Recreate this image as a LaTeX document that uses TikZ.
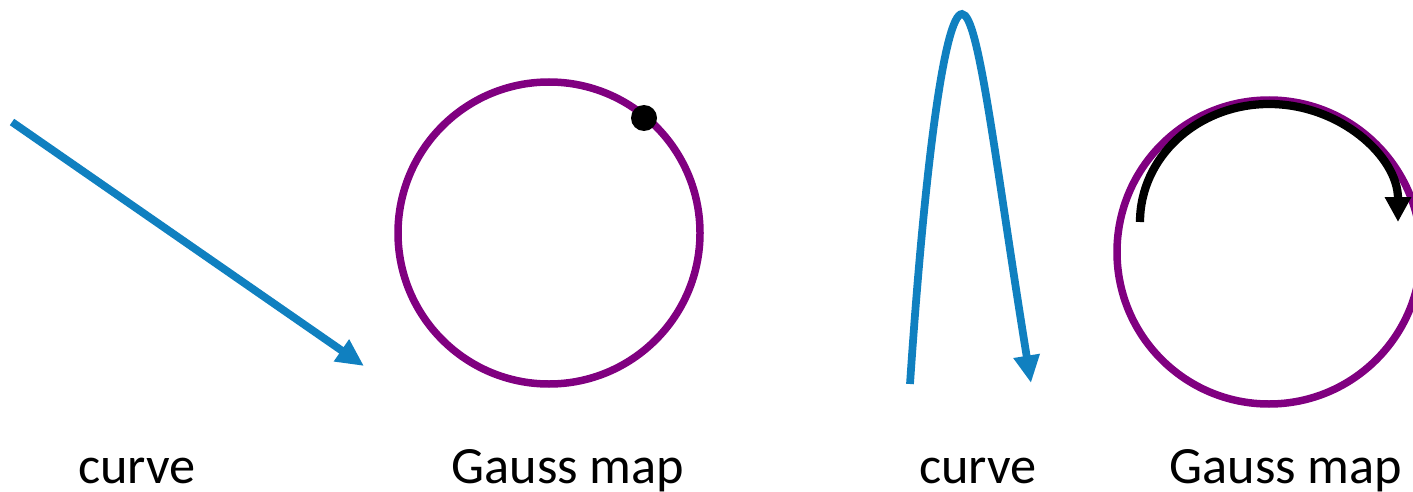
\documentclass[tikz,border=0pt]{standalone}
\usepackage{fontspec}
\setsansfont{Carlito}
\usetikzlibrary{arrows.meta}
\definecolor{curveblue}{RGB}{16, 128, 192}
\definecolor{gausspurple}{RGB}{128, 0, 128}

\begin{document}
\begin{tikzpicture}[
	x=0.02cm, y=0.02cm,
	font=\sffamily\fontsize{29.8}{36}\selectfont,
	% Styles for the curves and the circles
	curveline/.style={draw=curveblue, line width=0.155cm, -{Triangle[length=0.55cm, width=0.5cm]}},
	gausscircle/.style={draw=gausspurple, line width=0.15cm},
	gaussarrow/.style={draw=black, line width=0.165cm, -{Triangle[length=0.5cm, width=0.5cm]}},
	% Style for the captions
	caption/.style={anchor=base, inner sep=0pt}
	]
	
	\useasboundingbox (0, 0) rectangle (1413, 491);
	\clip (0, 0) rectangle (1413, 491);
	
	% ==========================================
	% STRAIGHT CURVE
	% ==========================================
	\coordinate (lineStart) at (12, 369);
	\coordinate (lineEnd) at (364, 125);
	\draw[curveline] (lineStart) -- (lineEnd);
	\node[caption] (curveA) at (137, 8) {curve};
	
	% ==========================================
	% GAUSS MAP OF STRAIGHT CURVE
	% ==========================================
	\coordinate (gaussA) at (549, 258);
	\draw[gausscircle] (gaussA) circle (151);
	\fill[black] (644, 373) circle (13);
	\node[caption] (mapA) at (568, 8) {Gauss map};
	
	% ==========================================
	% BENT CURVE
	% ==========================================
	\coordinate (bendStart) at (910, 107);
	\coordinate (bendTop) at (962, 477);
	\coordinate (bendEnd) at (1031, 108);
	\draw[curveline] (bendStart) .. controls (925, 330) and (945, 477) .. (bendTop)
		.. controls (979, 477) and (995, 330) .. (bendEnd);
	\node[caption] (curveB) at (978, 8) {curve};
	
	% ==========================================
	% GAUSS MAP OF BENT CURVE
	% ==========================================
	\coordinate (gaussB) at (1269, 239);
	\draw[gausscircle] (gaussB) circle (152);
	\coordinate (sweepStart) at (1140, 269);
	\draw[gaussarrow] (sweepStart) arc[start angle=180, end angle=0, x radius=129, y radius=118];
	\node[caption] (mapB) at (1286, 8) {Gauss map};
	
\end{tikzpicture}
\end{document}
